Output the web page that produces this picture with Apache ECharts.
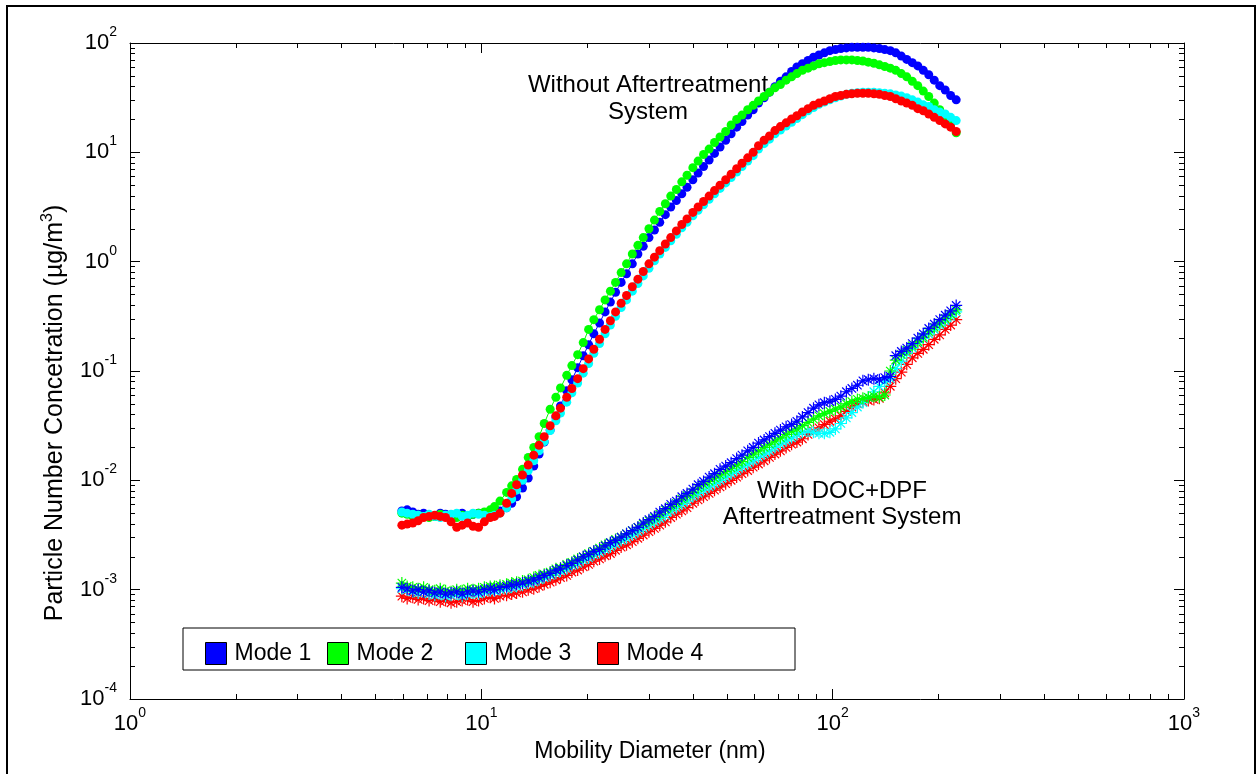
<!DOCTYPE html>
<html><head><meta charset="utf-8">
<script src="https://cdn.jsdelivr.net/npm/echarts@6/dist/echarts.min.js"></script>
<style>html,body{margin:0;padding:0;background:#fff}#c{width:1257px;height:774px}</style>
</head><body><div id="c"></div>
<script>
// Mobility diameters (nm), SMPS channels
const diameters = [5.94,6.15,6.38,6.61,6.85,7.10,7.37,7.64,7.91,8.20,
8.51,8.82,9.14,9.47,9.82,10.2,10.6,10.9,11.3,11.8,
12.2,12.6,13.1,13.6,14.1,14.6,15.1,15.7,16.3,16.8,
17.5,18.1,18.8,19.5,20.2,20.9,21.7,22.5,23.3,24.1,
25.0,25.9,26.9,27.9,28.9,30.0,31.1,32.2,33.4,34.6,
35.9,37.2,38.5,40.0,41.4,42.9,44.5,46.1,47.8,49.6,
51.4,53.3,55.2,57.3,59.4,61.5,63.8,66.1,68.5,71.0,
73.7,76.4,79.1,82.0,85.1,88.2,91.4,94.7,98.2,101.8,
105.5,109.4,113.4,117.6,121.9,126.3,131.0,135.8,140.7,145.9,
151.2,156.8,162.5,168.5,174.7,181.1,187.7,194.6,201.7,209.1,
216.7,224.7];

// Without aftertreatment system (circles)
const mode1Upper = [5.25e-3,5.37e-3,5.13e-3,4.90e-3,5.01e-3,4.79e-3,4.68e-3,5.01e-3,4.90e-3,4.57e-3,
4.79e-3,5.01e-3,4.68e-3,4.90e-3,5.01e-3,4.90e-3,5.01e-3,5.01e-3,5.25e-3,5.62e-3,
6.17e-3,7.08e-3,8.51e-3,1.05e-2,1.35e-2,1.74e-2,2.24e-2,2.88e-2,3.80e-2,4.79e-2,
6.61e-2,8.32e-2,0.107,0.138,0.174,0.219,0.275,0.347,0.427,0.525,
0.646,0.776,0.955,1.175,1.38,1.66,1.95,2.29,2.69,3.16,
3.63,4.17,4.79,5.62,6.46,7.41,8.51,9.77,11.2,12.9,
14.8,17.0,19.1,21.9,24.5,28.2,31.6,35.5,39.8,44.7,
49.0,55.0,60.3,64.6,69.2,74.1,77.6,81.3,85.1,87.1,
89.1,90.2,91.2,91.2,91.2,91.2,90.2,89.1,87.1,85.1,
81.3,75.9,70.8,66.1,61.7,56.2,51.3,45.7,40.7,37.2,
33.1,30.2];
const mode2Upper = [5.01e-3,4.90e-3,4.68e-3,4.79e-3,4.68e-3,4.57e-3,4.68e-3,4.90e-3,4.68e-3,4.37e-3,
4.57e-3,4.79e-3,4.68e-3,4.90e-3,5.01e-3,5.13e-3,5.37e-3,5.75e-3,6.46e-3,7.76e-3,
8.91e-3,1.02e-2,1.26e-2,1.62e-2,2.00e-2,2.51e-2,3.31e-2,4.47e-2,5.75e-2,7.00e-2,
9.12e-2,0.112,0.141,0.182,0.240,0.295,0.363,0.447,0.537,0.646,
0.794,0.955,1.175,1.41,1.66,2.00,2.40,2.88,3.39,3.98,
4.57,5.37,6.17,7.24,8.32,9.55,10.7,12.3,13.8,15.5,
17.8,20.0,21.9,24.5,26.9,29.5,32.4,35.5,38.9,41.7,
45.7,49.0,52.5,56.2,58.9,61.7,64.6,66.1,67.6,69.2,
70.0,70.0,70.0,69.2,68.4,66.8,65.3,63.1,61.0,58.9,
56.2,52.5,49.0,44.7,40.7,36.3,32.4,28.2,24.5,21.4,
18.2,15.1];
const mode3Upper = [5.13e-3,5.01e-3,4.90e-3,4.79e-3,4.68e-3,4.90e-3,4.68e-3,4.57e-3,4.79e-3,4.90e-3,
5.01e-3,4.68e-3,4.79e-3,5.01e-3,4.90e-3,4.79e-3,4.68e-3,4.79e-3,5.01e-3,5.62e-3,
6.76e-3,8.13e-3,1.00e-2,1.23e-2,1.51e-2,1.86e-2,2.26e-2,2.85e-2,3.51e-2,4.12e-2,
5.19e-2,6.31e-2,7.76e-2,9.55e-2,0.117,0.145,0.178,0.219,0.263,0.316,
0.380,0.447,0.537,0.631,0.741,0.871,1.02,1.175,1.35,1.55,
1.78,2.04,2.29,2.63,2.95,3.31,3.72,4.17,4.68,5.25,
5.89,6.61,7.41,8.32,9.33,10.7,12.0,13.2,14.8,16.0,
17.4,18.8,20.4,22.1,24.0,25.7,27.5,28.8,30.2,31.6,
32.7,33.9,34.7,35.1,35.5,35.5,35.5,35.1,34.7,34.3,
33.5,32.7,31.6,30.2,28.8,27.2,26.3,24.5,23.4,22.4,
20.9,19.5];
const mode4Upper = [3.89e-3,3.98e-3,4.07e-3,4.27e-3,4.57e-3,4.68e-3,4.79e-3,4.68e-3,4.57e-3,4.17e-3,
3.72e-3,3.89e-3,4.07e-3,3.80e-3,3.72e-3,4.17e-3,4.57e-3,4.68e-3,5.01e-3,6.17e-3,
7.59e-3,9.12e-3,1.12e-2,1.38e-2,1.70e-2,2.09e-2,2.51e-2,3.16e-2,3.89e-2,4.57e-2,
5.75e-2,6.92e-2,8.51e-2,0.105,0.129,0.158,0.195,0.240,0.288,0.347,
0.417,0.490,0.589,0.692,0.813,0.955,1.10,1.26,1.45,1.66,
1.91,2.19,2.46,2.82,3.16,3.55,3.98,4.47,5.01,5.62,
6.31,7.08,7.94,8.91,10.0,11.5,12.9,14.1,15.8,17.2,
18.6,20.2,21.6,23.4,25.1,26.9,28.2,29.5,30.9,32.4,
33.1,33.9,34.3,34.7,34.7,34.7,34.3,33.9,33.1,32.4,
30.9,29.5,28.2,26.9,25.1,24.0,22.4,20.9,19.5,18.2,
17.0,15.5];

// With DOC+DPF aftertreatment system (asterisks)
const mode1Lower = [1.05e-3,1.02e-3,9.77e-4,1.00e-3,9.55e-4,9.77e-4,9.33e-4,9.55e-4,9.12e-4,9.33e-4,
9.55e-4,9.12e-4,9.55e-4,9.77e-4,9.55e-4,1.00e-3,1.02e-3,1.00e-3,1.05e-3,1.07e-3,
1.10e-3,1.12e-3,1.15e-3,1.20e-3,1.23e-3,1.29e-3,1.35e-3,1.41e-3,1.51e-3,1.55e-3,
1.66e-3,1.74e-3,1.86e-3,2.00e-3,2.09e-3,2.24e-3,2.34e-3,2.51e-3,2.69e-3,2.82e-3,
3.02e-3,3.24e-3,3.47e-3,3.72e-3,4.07e-3,4.37e-3,4.68e-3,5.13e-3,5.50e-3,6.03e-3,
6.46e-3,7.08e-3,7.59e-3,8.32e-3,9.12e-3,9.77e-3,1.07e-2,1.15e-2,1.26e-2,1.35e-2,
1.45e-2,1.58e-2,1.70e-2,1.86e-2,2.00e-2,2.19e-2,2.34e-2,2.51e-2,2.69e-2,2.88e-2,
3.09e-2,3.24e-2,3.47e-2,3.80e-2,4.17e-2,4.57e-2,4.90e-2,5.13e-2,5.25e-2,5.50e-2,
5.89e-2,6.46e-2,6.92e-2,7.41e-2,8.13e-2,8.32e-2,8.51e-2,8.32e-2,8.71e-2,8.91e-2,
0.138,0.151,0.162,0.178,0.200,0.219,0.245,0.269,0.295,0.324,
0.355,0.398];
const mode2Lower = [1.15e-3,1.07e-3,1.05e-3,1.02e-3,1.05e-3,1.00e-3,9.77e-4,1.02e-3,9.77e-4,9.55e-4,
1.00e-3,9.77e-4,1.02e-3,1.00e-3,1.02e-3,1.05e-3,1.07e-3,1.07e-3,1.10e-3,1.12e-3,
1.15e-3,1.17e-3,1.20e-3,1.23e-3,1.29e-3,1.35e-3,1.38e-3,1.45e-3,1.55e-3,1.58e-3,
1.70e-3,1.78e-3,1.91e-3,2.00e-3,2.14e-3,2.24e-3,2.40e-3,2.57e-3,2.69e-3,2.88e-3,
3.02e-3,3.24e-3,3.47e-3,3.72e-3,3.98e-3,4.27e-3,4.57e-3,4.90e-3,5.37e-3,5.75e-3,
6.17e-3,6.76e-3,7.24e-3,7.76e-3,8.51e-3,9.12e-3,9.77e-3,1.05e-2,1.12e-2,1.20e-2,
1.29e-2,1.38e-2,1.48e-2,1.62e-2,1.74e-2,1.86e-2,2.00e-2,2.14e-2,2.29e-2,2.45e-2,
2.63e-2,2.82e-2,2.95e-2,3.16e-2,3.39e-2,3.63e-2,3.89e-2,4.07e-2,4.27e-2,4.47e-2,
4.68e-2,5.01e-2,5.25e-2,5.50e-2,5.62e-2,5.75e-2,5.89e-2,5.75e-2,6.03e-2,0.100,
0.126,0.141,0.155,0.170,0.186,0.204,0.229,0.251,0.275,0.302,
0.331,0.363];
const mode3Lower = [1.02e-3,1.00e-3,9.55e-4,9.33e-4,9.55e-4,9.12e-4,8.91e-4,9.12e-4,8.71e-4,8.91e-4,
9.12e-4,8.71e-4,9.12e-4,9.33e-4,9.12e-4,9.55e-4,9.77e-4,9.77e-4,1.00e-3,1.02e-3,
1.05e-3,1.07e-3,1.10e-3,1.15e-3,1.17e-3,1.23e-3,1.29e-3,1.35e-3,1.41e-3,1.48e-3,
1.55e-3,1.66e-3,1.74e-3,1.86e-3,1.95e-3,2.09e-3,2.19e-3,2.34e-3,2.45e-3,2.63e-3,
2.82e-3,2.95e-3,3.16e-3,3.39e-3,3.63e-3,3.89e-3,4.17e-3,4.47e-3,4.79e-3,5.25e-3,
5.62e-3,6.03e-3,6.46e-3,7.08e-3,7.59e-3,8.13e-3,8.71e-3,9.33e-3,1.00e-2,1.07e-2,
1.15e-2,1.23e-2,1.32e-2,1.41e-2,1.51e-2,1.62e-2,1.74e-2,1.86e-2,2.00e-2,2.14e-2,
2.29e-2,2.45e-2,2.63e-2,2.75e-2,2.82e-2,2.75e-2,2.69e-2,2.69e-2,2.75e-2,2.95e-2,
3.31e-2,3.72e-2,4.17e-2,4.68e-2,5.13e-2,5.75e-2,6.46e-2,7.24e-2,7.94e-2,8.51e-2,
0.105,0.123,0.145,0.162,0.182,0.200,0.219,0.240,0.263,0.288,
0.316,0.347];
const mode4Lower = [8.71e-4,8.32e-4,8.51e-4,8.13e-4,8.32e-4,7.94e-4,8.13e-4,7.76e-4,7.94e-4,7.59e-4,
7.76e-4,7.94e-4,8.13e-4,7.76e-4,7.94e-4,8.32e-4,8.51e-4,8.32e-4,8.71e-4,8.91e-4,
9.12e-4,9.33e-4,9.55e-4,1.00e-3,1.02e-3,1.07e-3,1.12e-3,1.17e-3,1.23e-3,1.29e-3,
1.35e-3,1.45e-3,1.51e-3,1.62e-3,1.70e-3,1.82e-3,1.91e-3,2.04e-3,2.14e-3,2.29e-3,
2.45e-3,2.57e-3,2.75e-3,2.95e-3,3.16e-3,3.39e-3,3.63e-3,3.89e-3,4.17e-3,4.57e-3,
4.90e-3,5.25e-3,5.62e-3,6.17e-3,6.61e-3,7.08e-3,7.59e-3,8.13e-3,8.71e-3,9.33e-3,
1.00e-2,1.07e-2,1.15e-2,1.23e-2,1.32e-2,1.41e-2,1.51e-2,1.62e-2,1.74e-2,1.86e-2,
2.00e-2,2.14e-2,2.24e-2,2.40e-2,2.63e-2,2.82e-2,3.02e-2,3.24e-2,3.47e-2,3.63e-2,
3.89e-2,4.27e-2,4.68e-2,5.01e-2,5.25e-2,5.37e-2,5.50e-2,5.62e-2,6.31e-2,7.24e-2,
8.51e-2,9.77e-2,0.115,0.132,0.145,0.158,0.174,0.195,0.214,0.240,
0.263,0.295];

const seriesNames = ['Mode 1','Mode 2','Mode 3','Mode 4'];
const xAxisTitle = 'Mobility Diameter (nm)';
const annotations = [['Without Aftertreatment','System'],['With DOC+DPF','Aftertreatment System']];

// ---------- styling ----------
const colors = ['#0000ff','#00ff00','#00ffff','#ff0000'];
const FONT = 'Liberation Sans, Arial, Helvetica, sans-serif';
const upper = [mode1Upper, mode2Upper, mode3Upper, mode4Upper];
const lower = [mode1Lower, mode2Lower, mode3Lower, mode4Lower];
const pairs = ys => diameters.map((d, i) => [d, ys[i]]);
const ASTERISK = 'path://M0,5L10,5M5,0L5,10M1.5,1.5L8.5,8.5M8.5,1.5L1.5,8.5';

const series = [];
upper.forEach((ys, i) => series.push({
  name: seriesNames[i], type: 'line', data: pairs(ys),
  symbol: 'circle', symbolSize: 9, showSymbol: true,
  lineStyle: {color: colors[i], width: 1}, itemStyle: {color: colors[i]},
  emphasis: {disabled: true}, animation: false, z: 2
}));
[3, 2, 1, 0].forEach(i => series.push({
  name: seriesNames[i], type: 'line', data: pairs(lower[i]),
  symbol: ASTERISK, symbolSize: 12, showSymbol: true,
  lineStyle: {color: colors[i], width: 1},
  itemStyle: {color: colors[i], borderColor: colors[i], borderWidth: 1.2},
  emphasis: {disabled: true}, animation: false, z: 2
}));

const supLabel = v => {
  const e = Math.round(Math.log10(v));
  return '{b|10}{s|' + e + '}';
};
const labelRich = {
  b: {fontSize: 22, lineHeight: 36, fontFamily: FONT, color: '#000'},
  s: {fontSize: 14, lineHeight: 16, verticalAlign: 'top', fontFamily: FONT, color: '#000'}
};
const tickCommon = {
  axisLine: {show: true, onZero: false, lineStyle: {color: '#000', width: 1}},
  axisTick: {show: true, inside: true, length: 10, lineStyle: {color: '#000', width: 1}},
  minorTick: {show: true, splitNumber: 9, length: 5, lineStyle: {color: '#000', width: 1}},
  splitLine: {show: false}, minorSplitLine: {show: false}
};

const legendLeft = [205, 327, 465, 597];
const option = {
  backgroundColor: '#fff',
  animation: false,
  grid: {left: 130, right: 73, top: 43, bottom: 75, containLabel: false},
  xAxis: [
    Object.assign({type: 'log', logBase: 10, min: 1, max: 1000, position: 'bottom',
      axisLabel: {formatter: supLabel, rich: labelRich, margin: 7},
      name: xAxisTitle, nameLocation: 'middle', nameGap: 38,
      nameTextStyle: {fontSize: 23, fontFamily: FONT, color: '#000', padding: [0, 14, 0, 0]}}, tickCommon),
    Object.assign({type: 'log', logBase: 10, min: 1, max: 1000, position: 'top',
      axisLabel: {show: false}}, tickCommon)
  ],
  yAxis: [
    Object.assign({type: 'log', logBase: 10, min: 1e-4, max: 100, position: 'left',
      axisLabel: {formatter: supLabel, rich: labelRich, margin: 13},
      name: '{a|Particle Number Concetration (µg/m}{s|3}{a|)}', nameLocation: 'middle', nameGap: 60,
      nameTextStyle: {padding: [0, 84, 0, 0], rich: {
        a: {fontSize: 25, fontFamily: FONT, color: '#000', lineHeight: 30},
        s: {fontSize: 16, fontFamily: FONT, color: '#000', verticalAlign: 'top', lineHeight: 16}
      }}}, tickCommon),
    Object.assign({type: 'log', logBase: 10, min: 1e-4, max: 100, position: 'right',
      axisLabel: {show: false}}, tickCommon)
  ],
  legend: seriesNames.map((n, i) => ({
    data: [{name: n, icon: 'rect', itemStyle: {color: colors[i], borderColor: '#000', borderWidth: 1}}],
    left: legendLeft[i], top: 642, padding: 0, itemWidth: 21, itemHeight: 22,
    selectedMode: false,
    textStyle: {fontSize: 23, fontFamily: FONT, color: '#000', padding: [0, 0, 0, 3]}
  })),
  graphic: [
    {type: 'rect', silent: true, z: 0, shape: {x: 7, y: 6, width: 1248, height: 820},
      style: {fill: 'transparent', stroke: '#000', lineWidth: 2}},
    {type: 'rect', silent: true, z: 0, shape: {x: 183, y: 628, width: 612, height: 42},
      style: {fill: 'transparent', stroke: '#000', lineWidth: 1}},
    {type: 'text', silent: true, x: 648, y: 85, style: {text: annotations[0][0], font: '24px ' + FONT, fill: '#000', align: 'center', verticalAlign: 'middle'}},
    {type: 'text', silent: true, x: 648, y: 112, style: {text: annotations[0][1], font: '24px ' + FONT, fill: '#000', align: 'center', verticalAlign: 'middle'}},
    {type: 'text', silent: true, x: 842, y: 491, style: {text: annotations[1][0], font: '24px ' + FONT, fill: '#000', align: 'center', verticalAlign: 'middle'}},
    {type: 'text', silent: true, x: 842, y: 517, style: {text: annotations[1][1], font: '24px ' + FONT, fill: '#000', align: 'center', verticalAlign: 'middle'}}
  ],
  series: series
};
const chart = echarts.init(document.getElementById('c'), null, {renderer: 'canvas'});
chart.setOption(option);
</script>
</body></html>
